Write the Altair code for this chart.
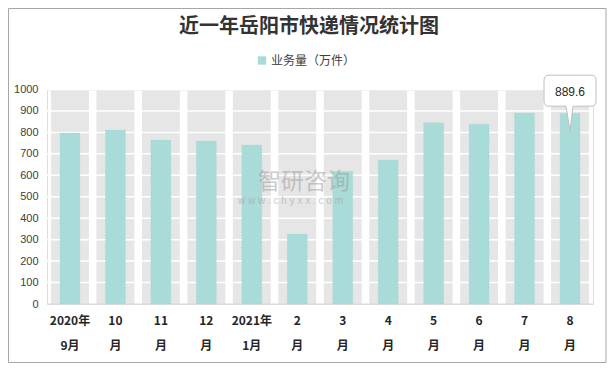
import altair as alt
import pandas as pd

months = ["2020年\n9月", "10\n月", "11\n月", "12\n月", "2021年\n1月", "2\n月",
          "3\n月", "4\n月", "5\n月", "6\n月", "7\n月", "8\n月"]
volume = [797, 811, 764, 760, 741, 326, 619, 671, 845, 838, 890, 889.6]
grid_ticks = [100, 200, 300, 400, 500, 600, 700, 800, 900, 1000]
series_name = "业务量（万件）"
title_text = "近一年岳阳市快递情况统计图"

W, H = 546, 214.5
df = pd.DataFrame({"month": months, "value": volume, "full": [1000] * len(months),
                   "series": [series_name] * len(months)})
grid_df = pd.DataFrame({"v": grid_ticks})
last_df = df.tail(1)

yscale = alt.Scale(domain=[0, 1000])
xscale = alt.Scale(paddingInner=0.165, paddingOuter=0.088)
xaxis = alt.Axis(title=None, labelAngle=0, domain=False, ticks=False,
                 labelExpr="split(datum.label, '\\n')",
                 labelFont="Noto Sans CJK SC", labelFontWeight="bold",
                 labelFontSize=12, labelColor="#262626",
                 labelLineHeight=25, labelPadding=11, labelBaseline="top")
yaxis = alt.Axis(title=None, values=[0] + grid_ticks, grid=False, domain=False,
                 ticks=False, labelFont="Liberation Sans", labelFontSize=11,
                 labelColor="#404040", labelPadding=9, format="d",
                 labelOverlap=False)

def X():
    return alt.X("month:N", sort=months, scale=xscale, axis=xaxis)

def Y(field):
    return alt.Y(field, scale=yscale, axis=yaxis)

frame = alt.Chart(pd.DataFrame({"a": [0]})).mark_rect(
    fill="white", fillOpacity=0, stroke="#A6A6A6", strokeWidth=1).encode(
    x=alt.value(-38.5), x2=alt.value(W + 13), y=alt.value(-81), y2=alt.value(H + 58.5))

bands = alt.Chart(df).mark_bar(color="#E6E6E6", opacity=1).encode(x=X(), y=Y("full:Q"))

grid = alt.Chart(grid_df).mark_rule(color="white", strokeWidth=1.5).encode(
    y=Y("v:Q"), x=alt.value(0), x2=alt.value(W))

base_line = alt.Chart(pd.DataFrame({"v": [0]})).mark_rule(color="#D9D9D9", strokeWidth=1).encode(
    y=Y("v:Q"), x=alt.value(0), x2=alt.value(W))

bars = alt.Chart(df).mark_bar(size=20, stroke="#9FD2CE", strokeWidth=0.6, strokeDash=[1, 2]).encode(
    x=X(), y=Y("value:Q"),
    color=alt.Color("series:N", scale=alt.Scale(domain=[series_name], range=["#A9DCD8"]),
                    legend=alt.Legend(title=None, orient="none", legendX=209, legendY=-35,
                                      symbolType="square", symbolSize=70, symbolStrokeWidth=0,
                                      labelFont="Noto Sans CJK SC", labelFontSize=12,
                                      labelColor="#404040", symbolOffset=0, labelOffset=3)))

s = 1 / 50.0
def p(x, y):
    return f"{x * s:.3f},{y * s:.3f}"
bubble_path = ("M" + p(-21, -38) + "L" + p(21, -38) + "Q" + p(26, -38) + " " + p(26, -33) +
               "L" + p(26, -12) + "Q" + p(26, -7) + " " + p(21, -7) + "L" + p(3, -7) +
               "L" + p(0, 18) + "L" + p(-4, -7) + "L" + p(-21, -7) + "Q" + p(-26, -7) + " " +
               p(-26, -12) + "L" + p(-26, -33) + "Q" + p(-26, -38) + " " + p(-21, -38) + "Z")

bubble = alt.Chart(last_df).mark_point(shape=bubble_path, size=10000, filled=True,
                                        fill="white", stroke="#BFBFBF", strokeWidth=1,
                                        opacity=1).encode(x=X(), y=Y("value:Q"))

label = alt.Chart(last_df).mark_text(dy=-21, font="Liberation Sans", fontSize=12,
                                     color="#262626").encode(
    x=X(), y=Y("value:Q"), text=alt.Text("value:Q", format=".1f"))

title = alt.Chart(pd.DataFrame({"t": [title_text]})).mark_text(
    font="Noto Sans CJK SC", fontSize=20, fontWeight="bold", color="#333333",
    align="center", baseline="middle").encode(
    x=alt.value(W / 2 - 11), y=alt.value(27 - 89.5), text="t:N")

wm1 = alt.Chart(pd.DataFrame({"t": ["智研咨询"]})).mark_text(
    font="Noto Sans CJK SC", fontSize=23, color="#9A9A9A", opacity=0.5, align="left",
    baseline="middle").encode(
    x=alt.value(258 - 47), y=alt.value(182 - 89.5), text="t:N")
wm2 = alt.Chart(pd.DataFrame({"t": ["w w w . c h y x x . c o m"]})).mark_text(
    font="Liberation Sans", fontSize=10, color="#9A9A9A", opacity=0.5, align="left",
    baseline="middle").encode(
    x=alt.value(238 - 47), y=alt.value(201 - 89.5), text="t:N")

chart = alt.layer(bands, frame, grid, base_line, bars, wm1, wm2, bubble, label, title).resolve_scale(
    x="shared", y="shared").properties(
    width=W, height=H,
    autosize=alt.AutoSizeParams(type="none"),
    padding={"left": 39, "right": 14, "top": 81.5, "bottom": 59},
).configure_view(stroke=None).configure(background="white")

chart.save("out.html", embed_options={"renderer": "svg", "actions": False})
